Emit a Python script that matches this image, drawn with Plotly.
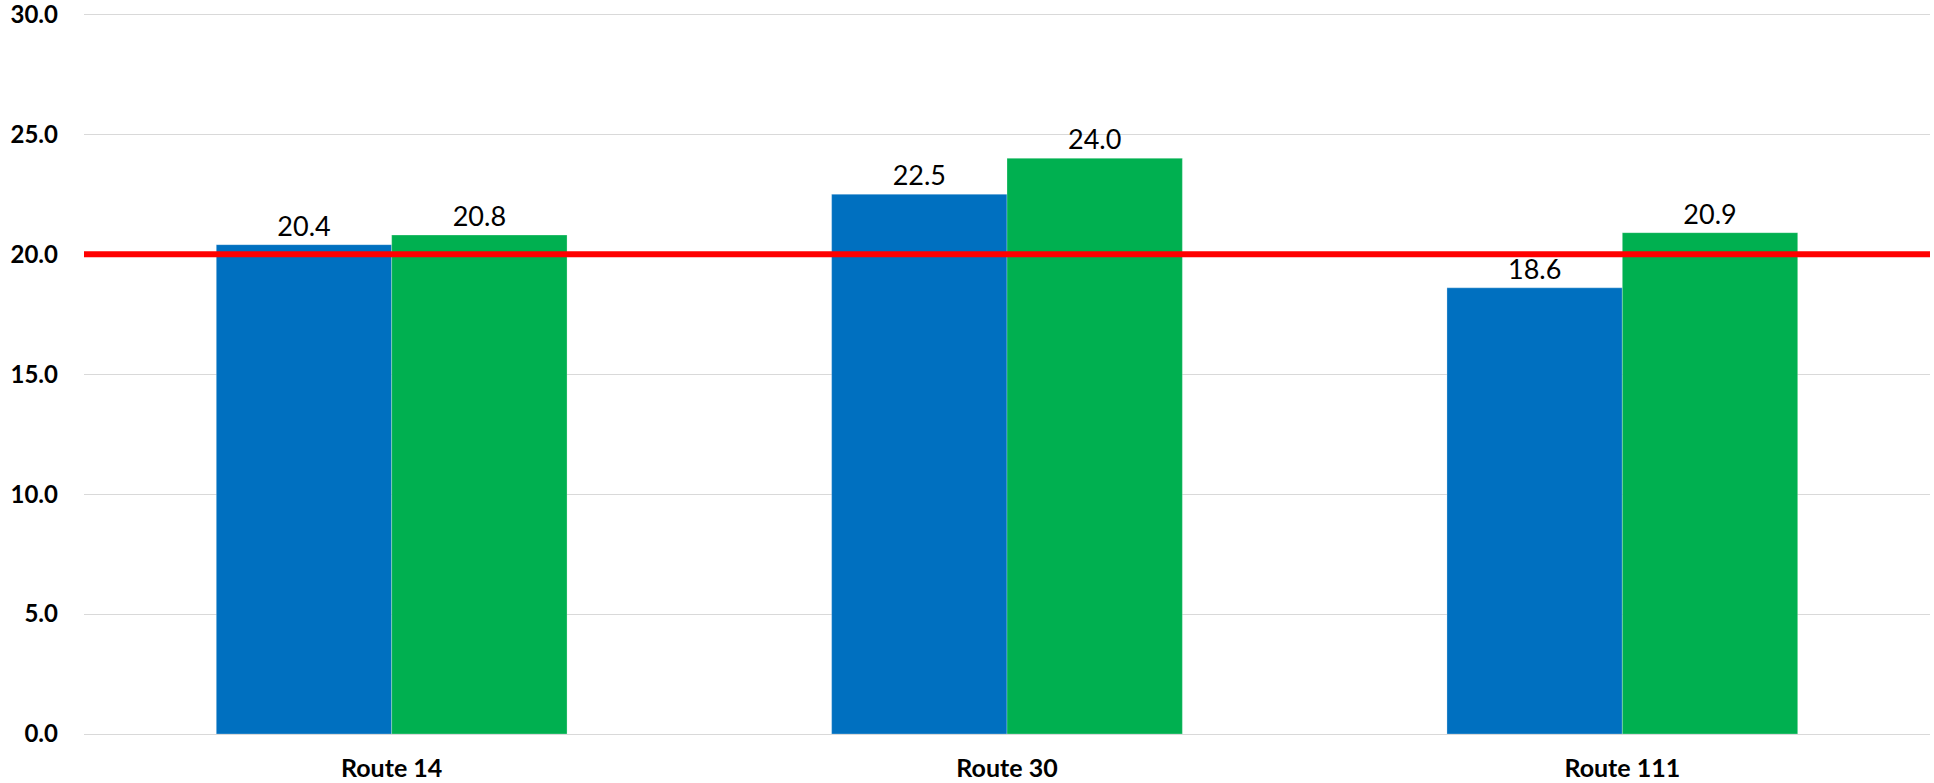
import plotly.graph_objects as go

categories = ["Route 14", "Route 30", "Route 111"]
series_blue = [20.4, 22.5, 18.6]
series_green = [20.8, 24.0, 20.9]
target_value = 20.0
y_ticks = [0, 5, 10, 15, 20, 25, 30]

BLUE = "#0070C0"
GREEN = "#00B050"
FONT = "Lato, 'Open Sans', sans-serif"

fig = go.Figure()
fig.add_trace(go.Bar(
    x=categories, y=series_blue, name="Series 1",
    marker=dict(color=BLUE, line=dict(color="rgba(255,255,255,0.5)", width=0.5)),
    text=[f"{v:.1f}" for v in series_blue], textposition="outside",
    textfont=dict(family=FONT, size=27, color="#000000"), cliponaxis=False,
))
fig.add_trace(go.Bar(
    x=categories, y=series_green, name="Series 2",
    marker=dict(color=GREEN, line=dict(color="rgba(255,255,255,0.5)", width=0.5)),
    text=[f"{v:.1f}" for v in series_green], textposition="outside",
    textfont=dict(family=FONT, size=27, color="#000000"), cliponaxis=False,
))

fig.add_shape(type="line", xref="paper", yref="y", x0=0, x1=1,
              y0=target_value, y1=target_value,
              line=dict(color="#FF0000", width=6), layer="above")

fig.update_layout(
    width=1934, height=783,
    margin=dict(l=84, r=4, t=12, b=49),
    paper_bgcolor="white", plot_bgcolor="white",
    barmode="group", bargap=0.43, bargroupgap=0,
    showlegend=False,
    font=dict(family=FONT, color="#000000"),
)
fig.update_yaxes(
    range=[0, 30.1], tickvals=y_ticks, ticktext=[f"{v:.1f}" for v in y_ticks],
    showgrid=True, gridcolor="#D9D9D9", gridwidth=1,
    zeroline=True, zerolinecolor="#D9D9D9", zerolinewidth=1,
    tickfont=dict(family=FONT, size=24, color="#000000", weight="bold"),
    ticks="", showline=False, ticklabelstandoff=25, ticklabeloverflow="allow",
    automargin=False,
)
fig.update_xaxes(
    tickfont=dict(family=FONT, size=25, color="#000000", weight="bold"),
    ticks="", showline=False, ticklabelstandoff=17, automargin=False,
)

fig.write_html("out.html")
